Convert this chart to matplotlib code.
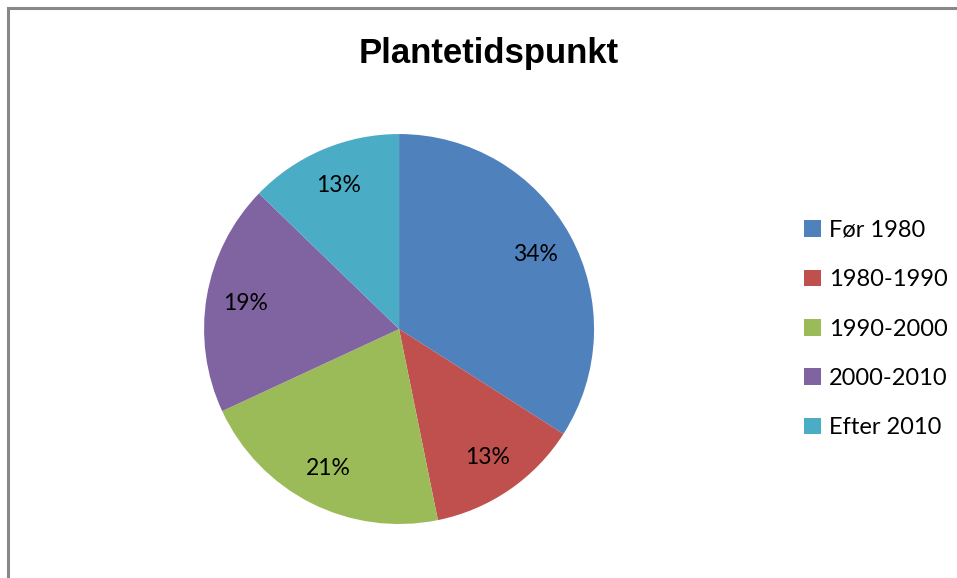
import matplotlib.pyplot as plt
from matplotlib.patches import Rectangle

categories = ['Før 1980', '1980-1990', '1990-2000', '2000-2010', 'Efter 2010']
counts = [16, 6, 10, 9, 6]
colors = ['#4F81BD', '#C0504D', '#9BBB59', '#8064A2', '#4BACC6']

fig = plt.figure(figsize=(9.57, 5.78), dpi=100)

# grey chart border (cut off at right and bottom like the screenshot)
fig.patches.append(Rectangle((8 / 957, -0.05), 1.1, (578 - 8) / 578 + 0.05,
                             transform=fig.transFigure, fill=False,
                             edgecolor='#888888', linewidth=2.2))

ax = fig.add_axes([0.417 - 0.2038, 0.4308 - 0.3374, 0.4076, 0.6747])
wedges, texts, autotexts = ax.pie(counts, colors=colors, startangle=90, counterclock=False,
                                  autopct='%.0f%%', pctdistance=0.8, radius=1,
                                  wedgeprops=dict(linewidth=0))
for t in autotexts:
    t.set_fontsize(16.5)
    t.set_family('Lato')
    t.set_color('black')
ax.set_xlim(-1, 1)
ax.set_ylim(-1, 1)
ax.set_aspect('equal')

fig.text(489 / 957, 1 - 53 / 578, 'Plantetidspunkt', ha='center', va='center',
         fontsize=25, fontweight='bold', family='Liberation Sans')

leg = fig.legend(wedges, categories, loc='center left', bbox_to_anchor=(783 / 957, 1 - 329 / 578),
                 frameon=False, prop={'family': 'Lato', 'size': 17},
                 handlelength=0.7, handleheight=0.7, handletextpad=0.35, labelspacing=1.2)

fig.savefig('out.png', dpi=100)
